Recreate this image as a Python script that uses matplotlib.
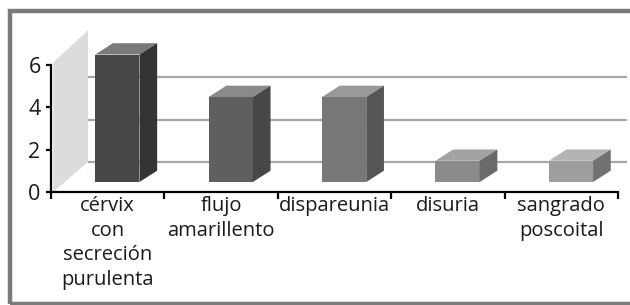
import matplotlib.pyplot as plt
import numpy as np
from matplotlib.patches import Polygon, Rectangle

# datos
categorias = ['cérvix\ncon\nsecreción\npurulenta', 'flujo\namarillento',
              'dispareunia', 'disuria', 'sangrado\nposcoital']
valores = [6, 4, 4, 1, 1]
yticks = [0, 2, 4, 6]

# colores (frente, tapa, lado)
frente = ['#474747', '#5f5f5f', '#777777', '#8b8b8b', '#9e9e9e']
tapa = ['#7a7a7b', '#8a8a8a', '#999999', '#a3a3a3', '#b4b4b4']
lado = ['#343434', '#474747', '#565656', '#6a6a6a', '#717171']

# geometria pseudo 3D (en unidades de datos)
PX_CAT = 113.4
PX_VAL = 21.25
DX, DY = 37 / PX_CAT, 30 / PX_VAL        # profundidad de la pared
BDX, BDY = 17.7 / PX_CAT, 11.3 / PX_VAL  # profundidad de las barras
X0, Y0, ANCHO = 0.39, 10 / PX_VAL, 0.39

plt.rcParams['font.family'] = ['Open Sans', 'DejaVu Sans']

fig = plt.figure(figsize=(6.3, 3.05), dpi=100)
ax = fig.add_axes([51 / 630, (305 - 192) / 305, 576 / 630, 162 / 305])
ax.set_xlim(0, 576 / PX_CAT)
ax.set_ylim(0, 162 / PX_VAL)
ax.patch.set_visible(False)

# pared lateral
ax.add_patch(Polygon([(0.02, 0), (0.02, 6.1), (DX, 6 + DY + 0.2), (DX, DY)],
                     closed=True, facecolor='#dbdcdd', edgecolor='none', zorder=1))
# lineas de division en la pared del fondo
for v in yticks[:-1]:
    ax.plot([DX, ax.get_xlim()[1]], [v + DY, v + DY], color='#a9a5a5',
            lw=1.6, zorder=1, solid_capstyle='butt')

n = len(valores)
xl = np.arange(n) + X0
ax.bar(xl, valores, width=ANCHO, bottom=Y0, align='edge', color=frente,
       edgecolor='none', zorder=3)
for i, v in enumerate(valores):
    x, top = xl[i], Y0 + v
    ax.add_patch(Polygon([(x, top), (x + ANCHO, top), (x + ANCHO + BDX, top + BDY),
                          (x + BDX, top + BDY)], closed=True,
                         facecolor=tapa[i], edgecolor='none', zorder=3))
    ax.add_patch(Polygon([(x + ANCHO, Y0), (x + ANCHO + BDX, Y0 + BDY),
                          (x + ANCHO + BDX, top + BDY), (x + ANCHO, top)],
                         closed=True, facecolor=lado[i], edgecolor='none', zorder=3))

for s in ['top', 'right']:
    ax.spines[s].set_visible(False)
ax.spines['left'].set_bounds(0, 6)
ax.spines['bottom'].set_bounds(0, n)
for s in ['left', 'bottom']:
    ax.spines[s].set_linewidth(1.6)
    ax.spines[s].set_zorder(5)

ax.set_yticks(yticks)
ax.set_yticklabels([str(t) for t in yticks], fontsize=15.5, color='#1a1a1a')
ax.tick_params(axis='y', length=3.5, width=1.6, pad=4)

ax.set_xticks(np.arange(n + 1))
ax.set_xticklabels([])
ax.tick_params(axis='x', which='major', length=5, width=1.6, direction='out')
ax.set_xticks(np.arange(n) + 0.5, minor=True)
ax.set_xticklabels(categorias, minor=True, fontsize=14.5, linespacing=1.3,
                   color='#1a1a1a')
ax.tick_params(axis='x', which='minor', length=0, pad=3)

# marco
fig.patches.append(Rectangle((10 / 630, 1.5 / 305), 1.1, (305 - 12) / 305,
                             transform=fig.transFigure, fill=False,
                             edgecolor='#7b7b7b', linewidth=3.2, zorder=0))

fig.savefig('out.png', dpi=100)
